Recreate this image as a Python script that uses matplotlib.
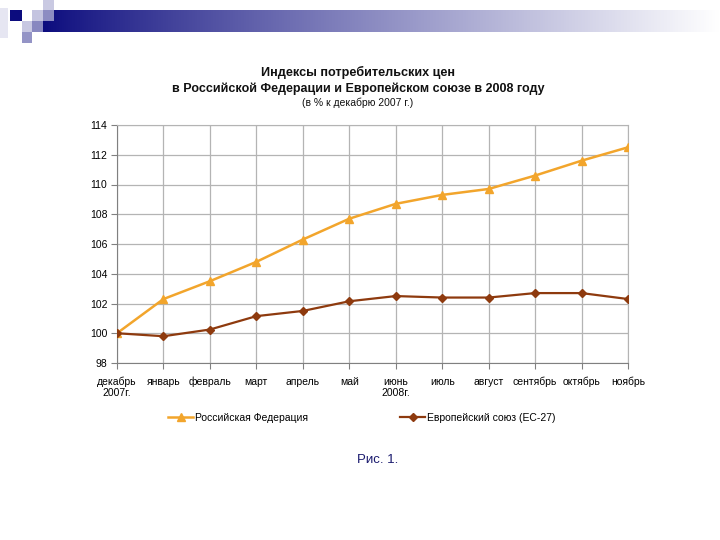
import matplotlib
matplotlib.use('Agg')
import matplotlib.pyplot as plt
from matplotlib.patches import Rectangle
import numpy as np

plt.rcParams['font.family'] = ['Liberation Sans', 'DejaVu Sans']

# Data
months = ['декабрь\n2007г.', 'январь', 'февраль', 'март', 'апрель', 'май',
          'июнь\n2008г.', 'июль', 'август', 'сентябрь', 'октябрь', 'ноябрь']
russia = [100.0, 102.3, 103.5, 104.8, 106.3, 107.7, 108.7, 109.3, 109.7, 110.6, 111.6, 112.5]
eu = [100.0, 99.8, 100.25, 101.15, 101.5, 102.15, 102.5, 102.4, 102.4, 102.7, 102.7, 102.3]
series_names = ['Российская Федерация', 'Европейский союз (ЕС-27)']

ORANGE = '#F2A52C'
BROWN = '#8E3A0E'
NAVY = '#0C0C7E'

fig = plt.figure(figsize=(7.2, 5.4), dpi=100)

# Slide decoration (pixel coordinates)
deco = fig.add_axes([0, 0, 1, 1], zorder=0)
deco.set_xlim(0, 720)
deco.set_ylim(540, 0)
deco.axis('off')

grad = np.linspace(0, 1, 256) ** 0.9
navy_rgb = np.array([12, 12, 126]) / 255.0
img = navy_rgb[None, :] * (1 - grad[:, None]) + np.ones(3)[None, :] * grad[:, None]
deco.imshow(img[None, :, :], extent=(43, 720, 32, 10), aspect='auto', zorder=1)

squares = [
    (10, 10, 12, 11, NAVY),
    (43, 0, 11, 10, '#c9c9e2'),
    (32, 10, 11, 11, '#c4c4e0'),
    (43, 10, 11, 11, '#8c8cc2'),
    (22, 21, 10, 11, '#c8c8e2'),
    (32, 21, 11, 11, '#8888c0'),
    (22, 32, 10, 11, '#9494c6'),
]
for x, y, w, h, c in squares:
    deco.add_patch(Rectangle((x, y), w, h, facecolor=c, edgecolor='none', zorder=2))
deco.add_patch(Rectangle((0, 8), 8, 30, facecolor='#e6e6f2', edgecolor='none', zorder=2))

# Titles
fig.text(358 / 720, 1 - 72 / 540, 'Индексы потребительских цен', ha='center', va='center',
         fontsize=9.1, fontweight='bold', color='#111111')
fig.text(358 / 720, 1 - 89 / 540, 'в Российской Федерации и Европейском союзе в 2008 году',
         ha='center', va='center', fontsize=9.0, fontweight='bold', color='#111111')
fig.text(358 / 720, 1 - 103 / 540, '(в % к декабрю 2007 г.)', ha='center', va='center',
         fontsize=7.5, color='#111111')

# Chart
ax = fig.add_axes([117 / 720, 1 - 363 / 540, (628 - 117) / 720, (363 - 125) / 540], zorder=2)
ax.patch.set_alpha(0)
x = np.arange(len(months))
ax.plot(x, russia, color=ORANGE, lw=1.8, marker='^', ms=6, label=series_names[0], zorder=3)
ax.plot(x, eu, color=BROWN, lw=1.6, marker='D', ms=4, label=series_names[1], zorder=4)

ax.set_xlim(0, len(months) - 1)
ax.set_ylim(98, 114)
ax.set_yticks(np.arange(98, 115, 2))
ax.set_xticks(x)
ax.set_xticklabels(months, fontsize=7.5, va='top', linespacing=1.1)
ax.tick_params(axis='y', labelsize=7.5, length=4, color='#808080', pad=3)
ax.tick_params(axis='x', length=4, color='#808080', pad=6)
ax.grid(True, color='#b4b4b4', lw=0.9)
for s in ax.spines.values():
    s.set_color('#b4b4b4')
ax.spines['left'].set_color('#808080')
ax.spines['bottom'].set_color('#808080')

fig.legend(loc='center', bbox_to_anchor=(362 / 720, 1 - 418 / 540), ncol=2, frameon=False,
           fontsize=7.5, handlelength=2.4, handletextpad=0.2, columnspacing=8.8)

fig.text(378 / 720, 1 - 460 / 540, 'Рис. 1.', ha='center', va='center', fontsize=9.5,
         color='#1a1a6e')

fig.savefig('out.png', dpi=100)
